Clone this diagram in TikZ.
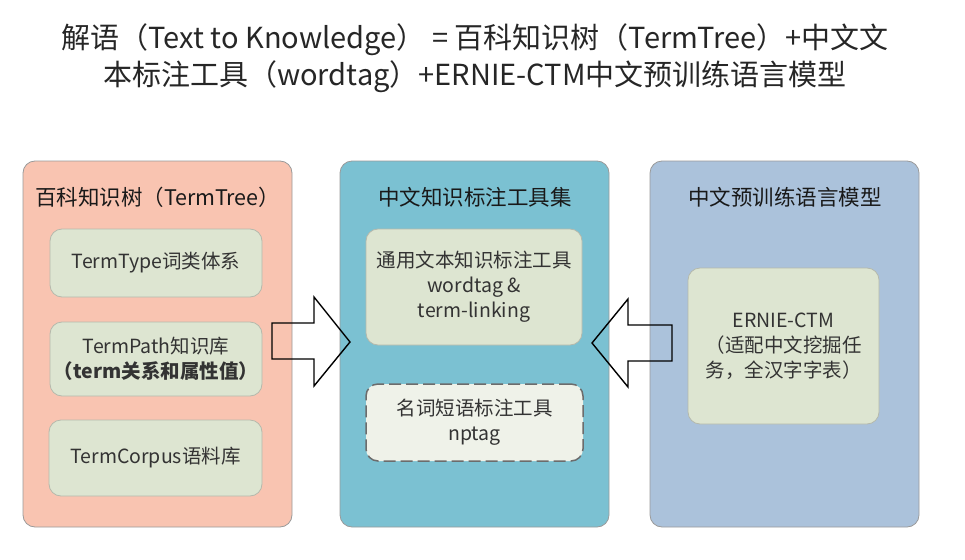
\documentclass[tikz,border=0pt]{standalone}
\usepackage{fontspec}
\setmainfont{Noto Sans CJK SC}
\definecolor{pSalmon}{HTML}{F9C4B1}
\definecolor{pTeal}{HTML}{7BC1D2}
\definecolor{pBlue}{HTML}{ABC2DB}
\definecolor{inFill}{HTML}{DDE5D1}
\definecolor{inFillLight}{HTML}{EFF2E9}
\definecolor{pBorder}{HTML}{9A9A9A}
\definecolor{inBorder}{HTML}{B5B9AC}
\definecolor{txtDark}{HTML}{333333}
\tikzset{
  panel/.style={draw=pBorder, line width=0.8pt, rounded corners=12pt, inner sep=0pt},
  inbox/.style={draw=inBorder, line width=0.8pt, fill=inFill, rounded corners=12pt, inner sep=0pt, align=center, text=txtDark, font=\fontsize{19.5}{25}\selectfont},
  dashbox/.style={inbox, fill=inFillLight, draw=gray!85!black, line width=1.5pt, dash pattern=on 12pt off 5pt},
  ptitle/.style={inner sep=0pt, text=black!90, font=\fontsize{21.5}{26}\selectfont},
  htitle/.style={inner sep=0pt, text=black!85, font=\fontsize{29}{34}\selectfont},
  blockarrow/.style={draw=black, line width=1.4pt, line join=miter}
}
\begin{document}
\begin{tikzpicture}[x=1pt,y=-1pt]
\useasboundingbox (0,0) rectangle (965,559);
% headline
\node[htitle] (t1) at (475,40) {解语（Text to Knowledge） = 百科知识树（TermTree）+中文文};
\node[htitle] (t2) at (475,77) {本标注工具（wordtag）+ERNIE-CTM中文预训练语言模型};
% panels
\node[panel, fill=pSalmon, minimum width=269pt, minimum height=366pt] (p1) at (157.5,344) {};
\node[panel, fill=pTeal, minimum width=269pt, minimum height=366pt] (p2) at (474.5,344) {};
\node[panel, fill=pBlue, minimum width=269pt, minimum height=366pt] (p3) at (784.5,344) {};
% panel titles
\node[ptitle, anchor=west] (h1) at (35,197) {百科知识树（TermTree）};
\node[ptitle] (h2) at (475,197) {中文知识标注工具集};
\node[ptitle] (h3) at (785,197) {中文预训练语言模型};
% left inner boxes
\node[inbox, minimum width=212pt, minimum height=68pt] (b1) at (156,263) {TermType词类体系};
\node[inbox, minimum width=212pt, minimum height=74pt] (b2) at (156,359) {TermPath知识库\\{\bfseries（term关系和属性值）}};
\node[inbox, minimum width=213pt, minimum height=76pt] (b3) at (155.5,458) {TermCorpus语料库};
% middle inner boxes
\node[inbox, minimum width=216pt, minimum height=116pt] (b4) at (474,287) {通用文本知识标注工具\\wordtag \&\\term-linking};
\node[dashbox, minimum width=217pt, minimum height=77pt] (b5) at (474.5,422.5) {名词短语标注工具\\nptag};
% right inner box
\node[inbox, minimum width=191pt, minimum height=156pt] (b6) at (783.5,346) {ERNIE-CTM\\（适配中文挖掘任\\务，全汉字字表）};
% block arrows
\draw[blockarrow] (272,323) -- (314,323) -- (314,297) -- (350,342) -- (314,386) -- (314,359) -- (272,359) -- cycle;
\draw[blockarrow] (672,325) -- (628,325) -- (628,299) -- (592,343) -- (628,387) -- (628,361) -- (672,361) -- cycle;
\end{tikzpicture}
\end{document}
